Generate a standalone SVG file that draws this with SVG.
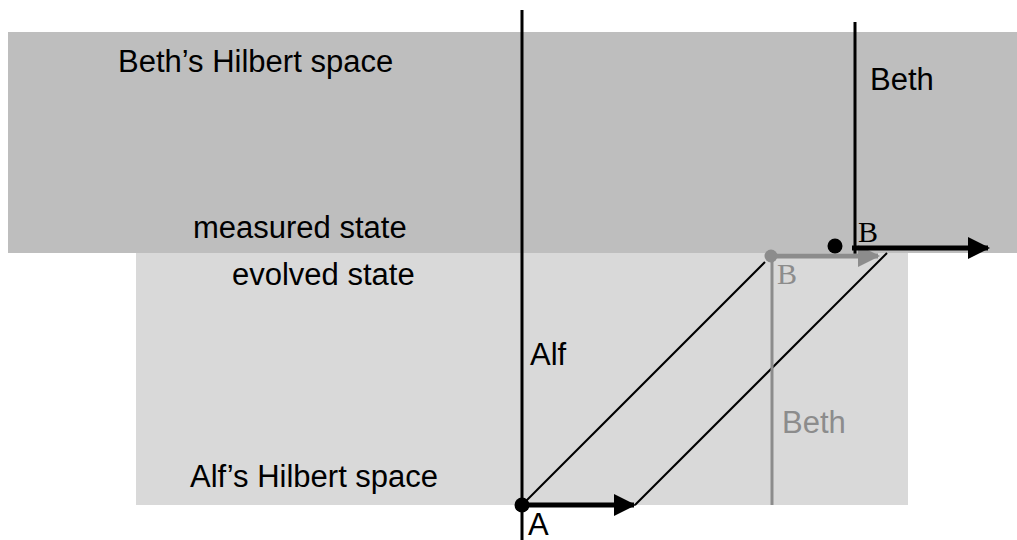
<svg xmlns="http://www.w3.org/2000/svg" width="1017" height="540" viewBox="0 0 1017 540">
<style>
text{font-family:"Liberation Sans",Arial,sans-serif;font-size:31px;fill:#000}
.serif{font-family:"Liberation Serif","Times New Roman",serif;font-size:30px}
.grey{fill:#8c8c8c}
.ln{stroke:#000;stroke-width:2;fill:none}
.axis{stroke:#000;stroke-width:3;fill:none}
</style>
<defs>
<marker id="ah" markerUnits="userSpaceOnUse" markerWidth="22" markerHeight="24" refX="20" refY="11" orient="auto"><path d="M0,0 L22,11 L0,22 Z" fill="#000"/></marker>
<marker id="ahg" markerUnits="userSpaceOnUse" markerWidth="22" markerHeight="24" refX="20" refY="11" orient="auto"><path d="M0,0 L22,11 L0,22 Z" fill="#8c8c8c"/></marker>
</defs>
<g id="beth-space"><rect x="8" y="32" width="1009" height="221" fill="#bebebe"/><text x="118" y="72">Beth’s Hilbert space</text><text x="193" y="238">measured state</text></g>
<g id="alf-space"><rect x="136" y="253" width="772" height="252" fill="#d9d9d9"/><text x="232" y="285">evolved state</text><text x="190" y="487">Alf’s Hilbert space</text></g>
<g id="connectors">
<line class="axis" x1="522" y1="10" x2="522" y2="540"/>
<line class="axis" x1="855" y1="22" x2="855" y2="256"/>
<line class="ln" x1="522" y1="505" x2="765" y2="262"/>
<line class="ln" x1="635" y1="505" x2="887" y2="253"/>
<line x1="772" y1="256" x2="772" y2="505" stroke="#8c8c8c" stroke-width="3"/>
<line x1="771" y1="256" x2="878" y2="256" stroke="#8c8c8c" stroke-width="5" marker-end="url(#ahg)"/>
<line x1="852" y1="248" x2="988" y2="248" stroke="#000" stroke-width="5" marker-end="url(#ah)"/>
<line x1="522" y1="505" x2="634" y2="505" stroke="#000" stroke-width="5" marker-end="url(#ah)"/>
</g>
<g id="alf"><circle cx="522" cy="505" r="7.5"/><text x="528" y="535">A</text><text x="530" y="365">Alf</text></g>
<g id="beth"><circle cx="835" cy="246" r="7.5"/><text class="serif" x="858" y="242">B</text><text x="870" y="90">Beth</text></g>
<g id="beth-evolved"><circle cx="771" cy="256" r="6.5" fill="#8c8c8c"/><text class="serif grey" x="777" y="284">B</text><text class="grey" x="782" y="433">Beth</text></g>
</svg>
